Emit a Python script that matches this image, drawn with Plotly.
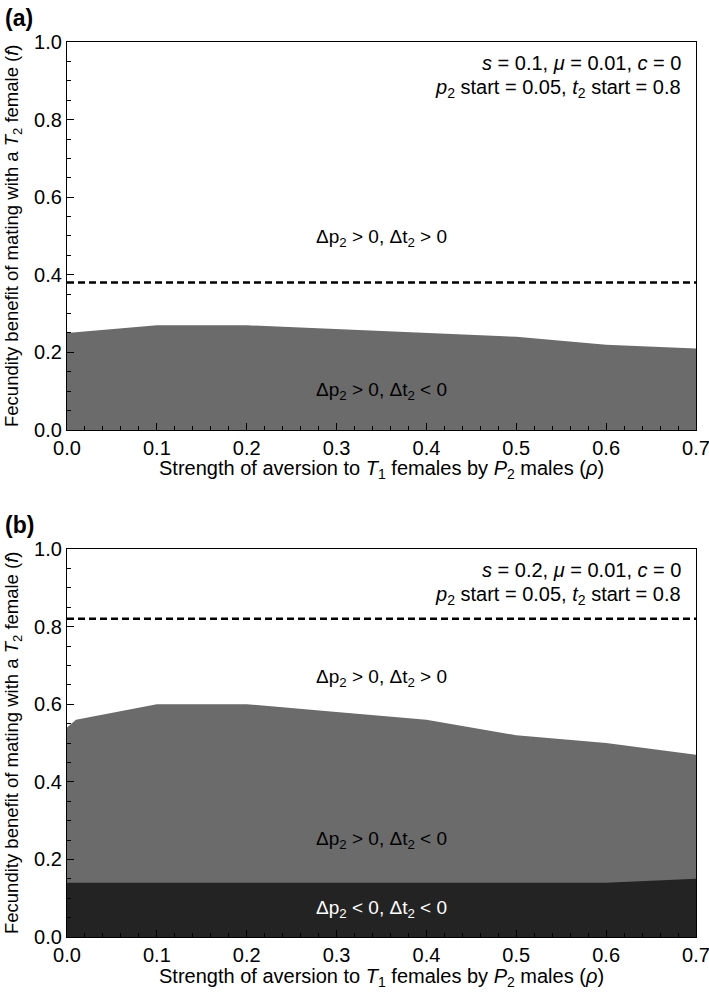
import plotly.graph_objects as go

# ---- data ----
rho_a = [0.0, 0.1, 0.2, 0.3, 0.4, 0.5, 0.6, 0.7]
upper_a = [0.25, 0.27, 0.27, 0.26, 0.25, 0.24, 0.22, 0.21]
dashed_a = 0.38

rho_b = [0.0, 0.01, 0.1, 0.2, 0.3, 0.4, 0.5, 0.6, 0.7]
upper_b = [0.54, 0.56, 0.60, 0.60, 0.58, 0.56, 0.52, 0.50, 0.47]
lower_b = [0.14, 0.14, 0.14, 0.14, 0.14, 0.14, 0.14, 0.14, 0.15]
dashed_b = 0.82

x_ticks = [0.0, 0.1, 0.2, 0.3, 0.4, 0.5, 0.6, 0.7]
x_ticklabels = ["0.0", "0.1", "0.2", "0.3", "0.4", "0.5", "0.6", "0.7"]
y_ticks = [0.0, 0.2, 0.4, 0.6, 0.8, 1.0]
y_ticklabels = ["0.0", "0.2", "0.4", "0.6", "0.8", "1.0"]

params_a = ["<i>s</i> = 0.1, <i>μ</i> = 0.01, <i>c</i> = 0",
            "<i>p</i><sub>2</sub> start = 0.05, <i>t</i><sub>2</sub> start = 0.8"]
params_b = ["<i>s</i> = 0.2, <i>μ</i> = 0.01, <i>c</i> = 0",
            "<i>p</i><sub>2</sub> start = 0.05, <i>t</i><sub>2</sub> start = 0.8"]

lab_pp = "Δp<sub>2</sub> > 0, Δt<sub>2</sub> > 0"
lab_pn = "Δp<sub>2</sub> > 0, Δt<sub>2</sub> < 0"
lab_nn = "Δp<sub>2</sub> < 0, Δt<sub>2</sub> < 0"

GRAY = "#6b6b6b"
DARK = "#232323"
SANS = "Liberation Sans, Arial, sans-serif"

fig = go.Figure()

# panel (a)
fig.add_trace(go.Scatter(x=rho_a, y=upper_a, fill="tozeroy", mode="lines",
                         line=dict(width=0, color=GRAY), fillcolor=GRAY,
                         xaxis="x", yaxis="y", showlegend=False))
fig.add_trace(go.Scatter(x=[rho_a[0], rho_a[-1]], y=[dashed_a, dashed_a], mode="lines",
                         line=dict(color="black", width=2.5, dash="7px,4px"),
                         xaxis="x", yaxis="y", showlegend=False))
# panel (b)
fig.add_trace(go.Scatter(x=rho_b, y=upper_b, fill="tozeroy", mode="lines",
                         line=dict(width=0, color=GRAY), fillcolor=GRAY,
                         xaxis="x2", yaxis="y2", showlegend=False))
fig.add_trace(go.Scatter(x=rho_b, y=lower_b, fill="tozeroy", mode="lines",
                         line=dict(width=0, color=DARK), fillcolor=DARK,
                         xaxis="x2", yaxis="y2", showlegend=False))
fig.add_trace(go.Scatter(x=[rho_b[0], rho_b[-1]], y=[dashed_b, dashed_b], mode="lines",
                         line=dict(color="black", width=2.5, dash="7px,4px"),
                         xaxis="x2", yaxis="y2", showlegend=False))

xa = dict(range=[0, 0.70001], tickmode="array", tickvals=x_ticks, ticktext=x_ticklabels,
          ticks="inside", ticklen=7, tickwidth=1, tickcolor="black",
          minor=dict(ticks="inside", ticklen=4, tick0=0, dtick=0.02, tickcolor="black"),
          showline=True, linecolor="black", linewidth=1.2, mirror=True,
          showgrid=False, zeroline=False, automargin=False, ticklabeloverflow="allow",
          tickfont=dict(family=SANS, size=20, color="black"))
ya = dict(range=[0, 1.0], tickmode="array", tickvals=y_ticks, ticktext=y_ticklabels,
          ticks="inside", ticklen=7, tickwidth=1, tickcolor="black",
          minor=dict(ticks="inside", ticklen=4, tick0=0, dtick=0.05, tickcolor="black"),
          showline=True, linecolor="black", linewidth=1.2, mirror=True,
          showgrid=False, zeroline=False, automargin=False, ticklabeloverflow="allow",
          tickfont=dict(family=SANS, size=20, color="black"))

dom_a = [0.5665, 1.0]
dom_b = [0.0, 0.4335]

fig.update_layout(
    width=709, height=994,
    margin=dict(l=67, r=13, t=42, b=57, autoexpand=False),
    paper_bgcolor="white", plot_bgcolor="white",
    xaxis=dict(xa, anchor="y"),
    yaxis=dict(ya, domain=dom_a, anchor="x"),
    xaxis2=dict(xa, anchor="y2"),
    yaxis2=dict(ya, domain=dom_b, anchor="x2"),
)

ann = []
xtitle = "Strength of aversion to <i>T</i><sub>1</sub> females by <i>P</i><sub>2</sub> males (<i>ρ</i>)"
ytitle = "Fecundity benefit of mating with a <i>T</i><sub>2</sub> female (<i>f</i>)"
for ax, dom, plabel, params in [("", dom_a, "(a)", params_a), ("2", dom_b, "(b)", params_b)]:
    xr = "x" + ax + " domain"
    yr = "y" + ax + " domain"
    # x title
    ann.append(dict(xref=xr, yref=yr, x=0.5, y=0, yshift=-40, yanchor="middle",
                    text=xtitle, showarrow=False,
                    font=dict(family=SANS, size=20, color="black")))
    # y title
    ann.append(dict(xref=xr, yref=yr, x=0, xshift=-54, y=0.5, textangle=-90,
                    xanchor="center", yanchor="middle",
                    text=ytitle, showarrow=False,
                    font=dict(family=SANS, size=18.5, color="black")))
    # panel label
    ann.append(dict(xref="paper", yref=yr, x=0, xshift=-64, y=1, yshift=24,
                    xanchor="left", yanchor="middle", text="<b>" + plabel + "</b>",
                    showarrow=False, font=dict(family=SANS, size=23, color="black")))
    # params
    ann.append(dict(xref=xr, yref=yr, x=1, xshift=-13, y=1, yshift=-21,
                    xanchor="right", yanchor="middle", text=params[0],
                    showarrow=False, font=dict(family=SANS, size=20, color="black")))
    ann.append(dict(xref=xr, yref=yr, x=1, xshift=-13, y=1, yshift=-46,
                    xanchor="right", yanchor="middle", text=params[1],
                    showarrow=False, font=dict(family=SANS, size=20, color="black")))

# region labels (panel a)
ann.append(dict(xref="x", yref="y", x=0.35, y=0.495, text=lab_pp, showarrow=False,
                font=dict(family=SANS, size=19, color="black")))
ann.append(dict(xref="x", yref="y", x=0.35, y=0.10, text=lab_pn, showarrow=False,
                font=dict(family=SANS, size=19, color="black")))
# region labels (panel b)
ann.append(dict(xref="x2", yref="y2", x=0.35, y=0.667, text=lab_pp, showarrow=False,
                font=dict(family=SANS, size=19, color="black")))
ann.append(dict(xref="x2", yref="y2", x=0.35, y=0.25, text=lab_pn, showarrow=False,
                font=dict(family=SANS, size=19, color="black")))
ann.append(dict(xref="x2", yref="y2", x=0.35, y=0.072, text=lab_nn, showarrow=False,
                font=dict(family=SANS, size=19, color="white")))

fig.update_layout(annotations=ann)
fig.write_html("out.html", config={"displayModeBar": False},
               post_script="document.body.style.margin='0';document.body.style.overflow='hidden';")
